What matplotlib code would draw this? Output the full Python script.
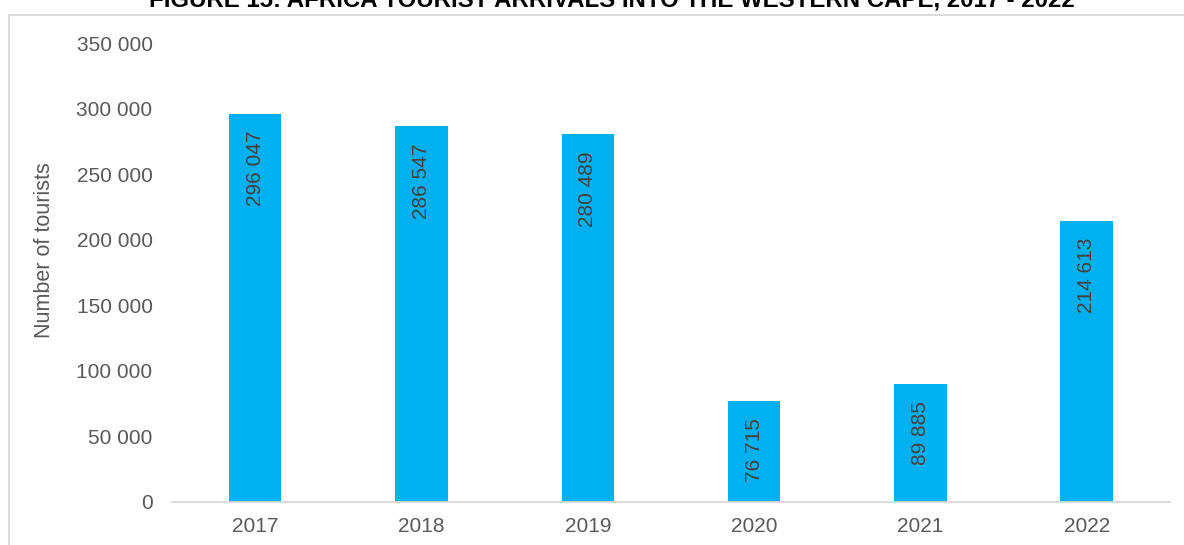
"""
Africa tourist arrivals into the Western Cape, 2017 - 2022
"""

import matplotlib.pyplot as plt
from matplotlib.patches import Rectangle
from matplotlib.ticker import FuncFormatter

plt.rcParams["font.family"] = ["Liberation Sans", "DejaVu Sans"]

# --- data ---
years = ["2017", "2018", "2019", "2020", "2021", "2022"]
arrivals = [296047, 286547, 280489, 76715, 89885, 214613]

TITLE = "FIGURE 15: AFRICA TOURIST ARRIVALS INTO THE WESTERN CAPE, 2017 - 2022"
BAR_COLOR = "#00B0F0"
TEXT_COLOR = "#595959"
LABEL_COLOR = "#404040"


def _space_thousands(v, _pos=None):
    return f"{int(v):,}".replace(",", " ")


fig = plt.figure(figsize=(11.84, 5.45), dpi=100)
ax = fig.add_axes([0.1453, 0.0789, 0.8427, 0.8422])

# chart area frame (cut off at the right and bottom in the original)
fig.patches.append(Rectangle((0.0078, -0.05), 1.05, 0.973 + 0.05, transform=fig.transFigure,
                             fill=False, edgecolor="#d9d9d9", linewidth=1.3, clip_on=False))

fig.text(612 / 1184, 1 - 6 / 545, TITLE, ha="center", va="baseline", fontsize=17.3,
         fontweight="bold", color="black")

x = range(len(years))
bars = ax.bar(x, arrivals, width=0.315, color=BAR_COLOR, zorder=2)

for rect, val in zip(bars, arrivals):
    ax.annotate(_space_thousands(val), xy=(rect.get_x() + rect.get_width() / 2, rect.get_height()),
                xytext=(0, -17), textcoords="offset pixels",
                ha="center", va="top", rotation=90, fontsize=15, color=LABEL_COLOR)

ax.set_xlim(-0.5, len(years) - 0.5)
ax.set_ylim(0, 350000)
ax.set_yticks(range(0, 350001, 50000))
ax.yaxis.set_major_formatter(FuncFormatter(_space_thousands))
ax.set_xticks(list(x))
ax.set_xticklabels(years)

ax.tick_params(axis="both", length=0, labelsize=15, colors=TEXT_COLOR)
ax.tick_params(axis="y", pad=14)
ax.tick_params(axis="x", pad=11)

for side in ("top", "right", "left"):
    ax.spines[side].set_visible(False)
ax.spines["bottom"].set_color("#d9d9d9")
ax.spines["bottom"].set_linewidth(1.3)

# y label sits above the axes' vertical centre in the original
fig.text(44.5 / 1184, 1 - 250 / 545, "Number of tourists", rotation=90, ha="center", va="center",
         fontsize=15.5, color=TEXT_COLOR)

fig.savefig("out.png", dpi=100)
